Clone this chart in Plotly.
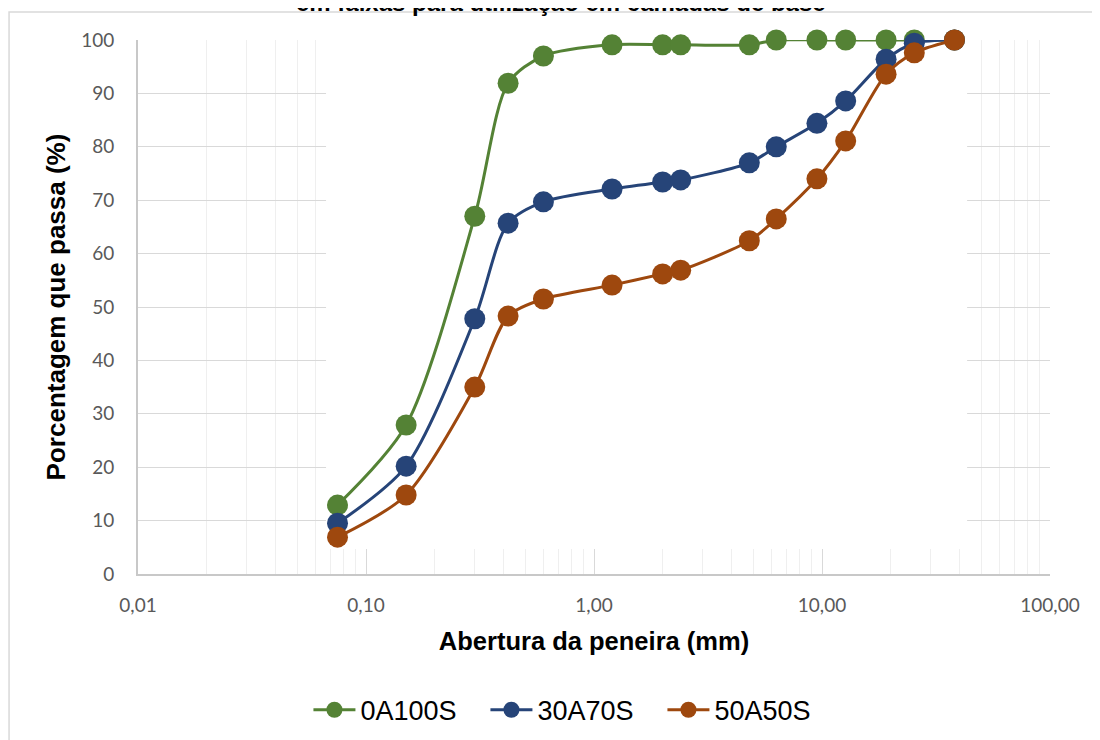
import plotly.graph_objects as go

sieves = [0.075, 0.15, 0.3, 0.42, 0.6, 1.2, 2.0, 2.4, 4.8, 6.3, 9.5, 12.7, 19.1, 25.4, 38.1]
s_0A100S = [12.9, 27.9, 67.0, 91.9, 97.0, 99.1, 99.1, 99.1, 99.1, 100, 100, 100, 100, 100, 100]
s_30A70S = [9.5, 20.2, 47.8, 65.7, 69.7, 72.1, 73.4, 73.8, 77.0, 80.0, 84.4, 88.6, 96.4, 99.4, 100]
s_50A50S = [6.9, 14.8, 35.0, 48.3, 51.5, 54.1, 56.2, 56.9, 62.4, 66.5, 74.0, 81.1, 93.6, 97.6, 100]

names = ["0A100S", "30A70S", "50A50S"]
colors = ["#548235", "#264478", "#9E480E"]
x_tickvals = [0.01, 0.1, 1, 10, 100]
x_ticktext = ["0,01", "0,10", "1,00", "10,00", "100,00"]
minor_vals = [m * d for d in [0.01, 0.1, 1, 10] for m in range(2, 10)]

fig = go.Figure()
for name, vals, col in zip(names, [s_0A100S, s_30A70S, s_50A50S], colors):
    fig.add_trace(go.Scatter(
        x=sieves, y=vals, name=name, mode="lines+markers",
        line=dict(color=col, width=3, shape="spline", smoothing=0.8),
        marker=dict(color=col, size=21),
        cliponaxis=False,
    ))

fig.update_layout(
    width=1092, height=740,
    margin=dict(l=130, r=50, t=32, b=174),
    paper_bgcolor="white", plot_bgcolor="white",
    showlegend=True,
    legend=dict(orientation="h", x=0.478, xanchor="center", y=-0.255, yanchor="middle",
                font=dict(family="Liberation Sans, Arial", size=27, color="black"),
                itemwidth=42, entrywidth=120),
    font=dict(family="Liberation Sans, Arial"),
)

fig.update_xaxes(
    type="log", range=[-2, 2],
    tickvals=x_tickvals, ticktext=x_ticktext,
    tickfont=dict(family="Lato", size=19, color="#595959"),
    ticks="", ticklabelstandoff=13,
    showgrid=True, gridcolor="#d9d9d9", gridwidth=1,
    minor=dict(tickvals=minor_vals, showgrid=True, gridcolor="#efefef", gridwidth=1, ticks=""),
    showline=True, linecolor="#c8c8c8", linewidth=2,
    zeroline=False,
    title=dict(text="<b>Abertura da peneira (mm)</b>", standoff=17,
               font=dict(family="Liberation Sans, Arial", size=25.5, color="black")),
)
fig.update_yaxes(
    range=[0, 100], tickvals=list(range(0, 101, 10)),
    tickfont=dict(family="Lato", size=19, color="#595959"),
    ticks="", ticklabelstandoff=18,
    showgrid=True, gridcolor="#d9d9d9", gridwidth=1,
    showline=True, linecolor="#c8c8c8", linewidth=2,
    zeroline=False,
    title=dict(text="<b>Porcentagem que passa (%)</b>", standoff=8,
               font=dict(family="Liberation Sans, Arial", size=26, color="black")),
)

# white panel masking the grid in the central region (between grid and traces)
fig.add_shape(type="rect", xref="x", yref="y",
              x0=0.0668, x1=43.3, y0=4.68, y1=101,
              fillcolor="white", line=dict(width=0), layer="between")

# outer chart frame
fig.add_shape(type="rect", xref="paper", yref="paper",
              x0=-0.1414, x1=1.07, y0=-0.34, y1=1.0524,
              fillcolor="rgba(0,0,0,0)", line=dict(color="#d9d9d9", width=1.5), layer="below")

# title (cut off at the top)
fig.add_annotation(text="<b>em faixas para utilização em camadas de base</b>",
                   xref="paper", yref="paper", x=0.4635, y=1.0412, xanchor="center", yanchor="bottom",
                   showarrow=False, font=dict(family="Liberation Sans, Arial", size=24, color="black"))

fig.write_html("out.html")
